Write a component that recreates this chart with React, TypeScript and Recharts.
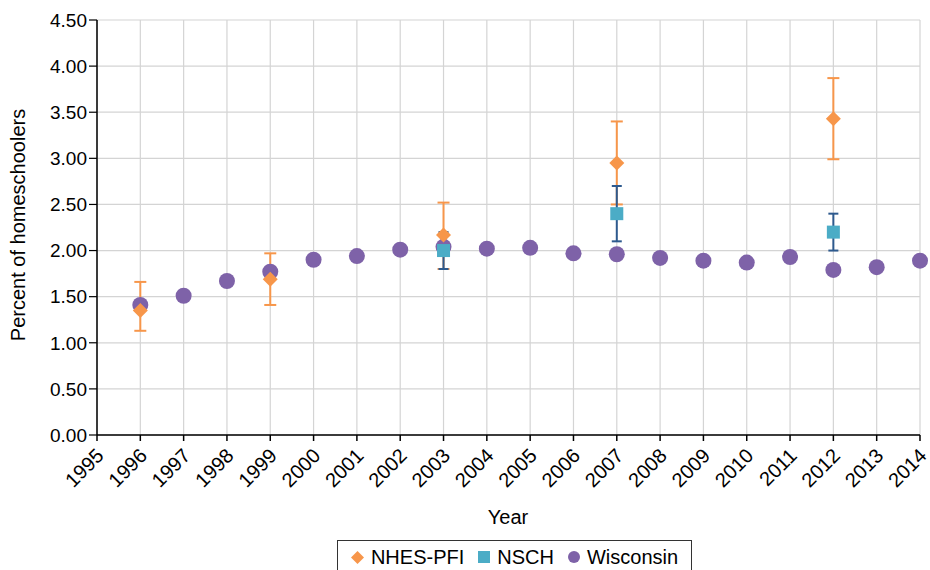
import React from 'react'
import {
  ScatterChart, Scatter, XAxis, YAxis, CartesianGrid, ErrorBar
} from 'recharts'

const years = [1995, 1996, 1997, 1998, 1999, 2000, 2001, 2002, 2003, 2004, 2005, 2006, 2007, 2008, 2009, 2010, 2011, 2012, 2013, 2014]
const yTicks = [0, 0.5, 1, 1.5, 2, 2.5, 3, 3.5, 4, 4.5]

const wiYears = [1996, 1997, 1998, 1999, 2000, 2001, 2002, 2003, 2004, 2005, 2006, 2007, 2008, 2009, 2010, 2011, 2012, 2013, 2014]
const wiValues = [1.41, 1.51, 1.67, 1.77, 1.90, 1.94, 2.01, 2.04, 2.02, 2.03, 1.97, 1.96, 1.92, 1.89, 1.87, 1.93, 1.79, 1.82, 1.89]

const nhesYears = [1996, 1999, 2003, 2007, 2012]
const nhesValues = [1.35, 1.69, 2.17, 2.95, 3.43]
const nhesLow = [1.13, 1.41, 1.80, 2.50, 2.99]
const nhesHigh = [1.66, 1.97, 2.52, 3.40, 3.87]

const nschYears = [2003, 2007, 2012]
const nschValues = [2.00, 2.40, 2.20]
const nschLow = [1.80, 2.10, 2.00]
const nschHigh = [2.20, 2.70, 2.40]

const ORANGE = '#F7964A'
const TEAL = '#4BACC6'
const NAVY = '#2E5A8E'
const PURPLE = '#7E62A8'
const FONT = '"Liberation Sans", Arial, sans-serif'

const wiData = wiYears.map((year, i) => ({ year, value: wiValues[i] }))
const nhesData = nhesYears.map((year, i) => ({
  year, value: nhesValues[i], err: [nhesValues[i] - nhesLow[i], nhesHigh[i] - nhesValues[i]],
}))
const nschData = nschYears.map((year, i) => ({
  year, value: nschValues[i], err: [nschValues[i] - nschLow[i], nschHigh[i] - nschValues[i]],
}))

const Diamond = (props: any) => {
  const { cx, cy } = props
  const r = 7.5
  return <path d={`M${cx},${cy - r}L${cx + r},${cy}L${cx},${cy + r}L${cx - r},${cy}Z`} fill={ORANGE} />
}
const Square = (props: any) => {
  const { cx, cy } = props
  return <rect x={cx - 6.5} y={cy - 6.5} width={13} height={13} fill={TEAL} />
}
const Dot = (props: any) => {
  const { cx, cy } = props
  return <circle cx={cx} cy={cy} r={8} fill={PURPLE} />
}

const XTick = (props: any) => {
  const { x, y, payload } = props
  const tx = x + 3
  const ty = y + 9
  return (
    <text x={tx} y={ty} transform={`rotate(-45, ${tx}, ${ty})`}
      textAnchor="end" fontSize={20} fill="#000" fontFamily={FONT} dominantBaseline="central">
      {payload.value}
    </text>
  )
}

export default function App() {
  return (
    <div style={{ position: 'absolute', left: 0, top: 0, width: 930, height: 570, background: '#fff', fontFamily: FONT }}>
      <ScatterChart width={930} height={570} margin={{ top: 20, right: 10, left: 0, bottom: 65 }}>
        <CartesianGrid stroke="#d4d4d4" strokeWidth={1.2} verticalValues={years} horizontalValues={yTicks} />
        <XAxis
          type="number" dataKey="year" domain={[1995, 2014]} ticks={years} interval={0}
          axisLine={{ stroke: '#000', strokeWidth: 1.5 }}
          tickLine={{ stroke: '#000', strokeWidth: 1.5 }} tickSize={6}
          tick={<XTick />} height={70}
        />
        <YAxis
          type="number" dataKey="value" domain={[0, 4.5]} ticks={yTicks} interval={0} width={97}
          axisLine={{ stroke: '#000', strokeWidth: 1.5 }}
          tickLine={{ stroke: '#000', strokeWidth: 1.2 }} tickSize={8}
          tickFormatter={(v: number) => v.toFixed(2)}
          tick={{ fontSize: 19, fill: '#000', fontFamily: FONT }}
        />
        <Scatter data={wiData} dataKey="value" shape={<Dot />} isAnimationActive={false} />
        <Scatter data={nhesData} dataKey="value" shape={<Diamond />} isAnimationActive={false}>
          <ErrorBar dataKey="err" direction="y" width={6} stroke={ORANGE} strokeWidth={2} />
        </Scatter>
        <Scatter data={nschData} dataKey="value" shape={<Square />} isAnimationActive={false}>
          <ErrorBar dataKey="err" direction="y" width={5} stroke={NAVY} strokeWidth={2} />
        </Scatter>
        <text x={18} y={225} transform="rotate(-90, 18, 225)" textAnchor="middle" dominantBaseline="central"
          fontSize={20} fill="#000" fontFamily={FONT}>Percent of homeschoolers</text>
        <text x={508} y={517} textAnchor="middle" dominantBaseline="central"
          fontSize={20} fill="#000" fontFamily={FONT}>Year</text>
      </ScatterChart>
      <div style={{
        position: 'absolute', left: 337, top: 540, width: 355, height: 34, border: '1.5px solid #333',
        display: 'flex', alignItems: 'center', justifyContent: 'center', gap: 14, fontSize: 20, boxSizing: 'border-box',
      }}>
        <span style={{ display: 'flex', alignItems: 'center', gap: 7 }}>
          <svg width={13} height={13}><path d="M6.5,0L13,6.5L6.5,13L0,6.5Z" fill={ORANGE} /></svg>NHES-PFI
        </span>
        <span style={{ display: 'flex', alignItems: 'center', gap: 7 }}>
          <svg width={12} height={12}><rect width={12} height={12} fill={TEAL} /></svg>NSCH
        </span>
        <span style={{ display: 'flex', alignItems: 'center', gap: 7 }}>
          <svg width={12} height={12}><circle cx={6} cy={6} r={6} fill={PURPLE} /></svg>Wisconsin
        </span>
      </div>
    </div>
  )
}
